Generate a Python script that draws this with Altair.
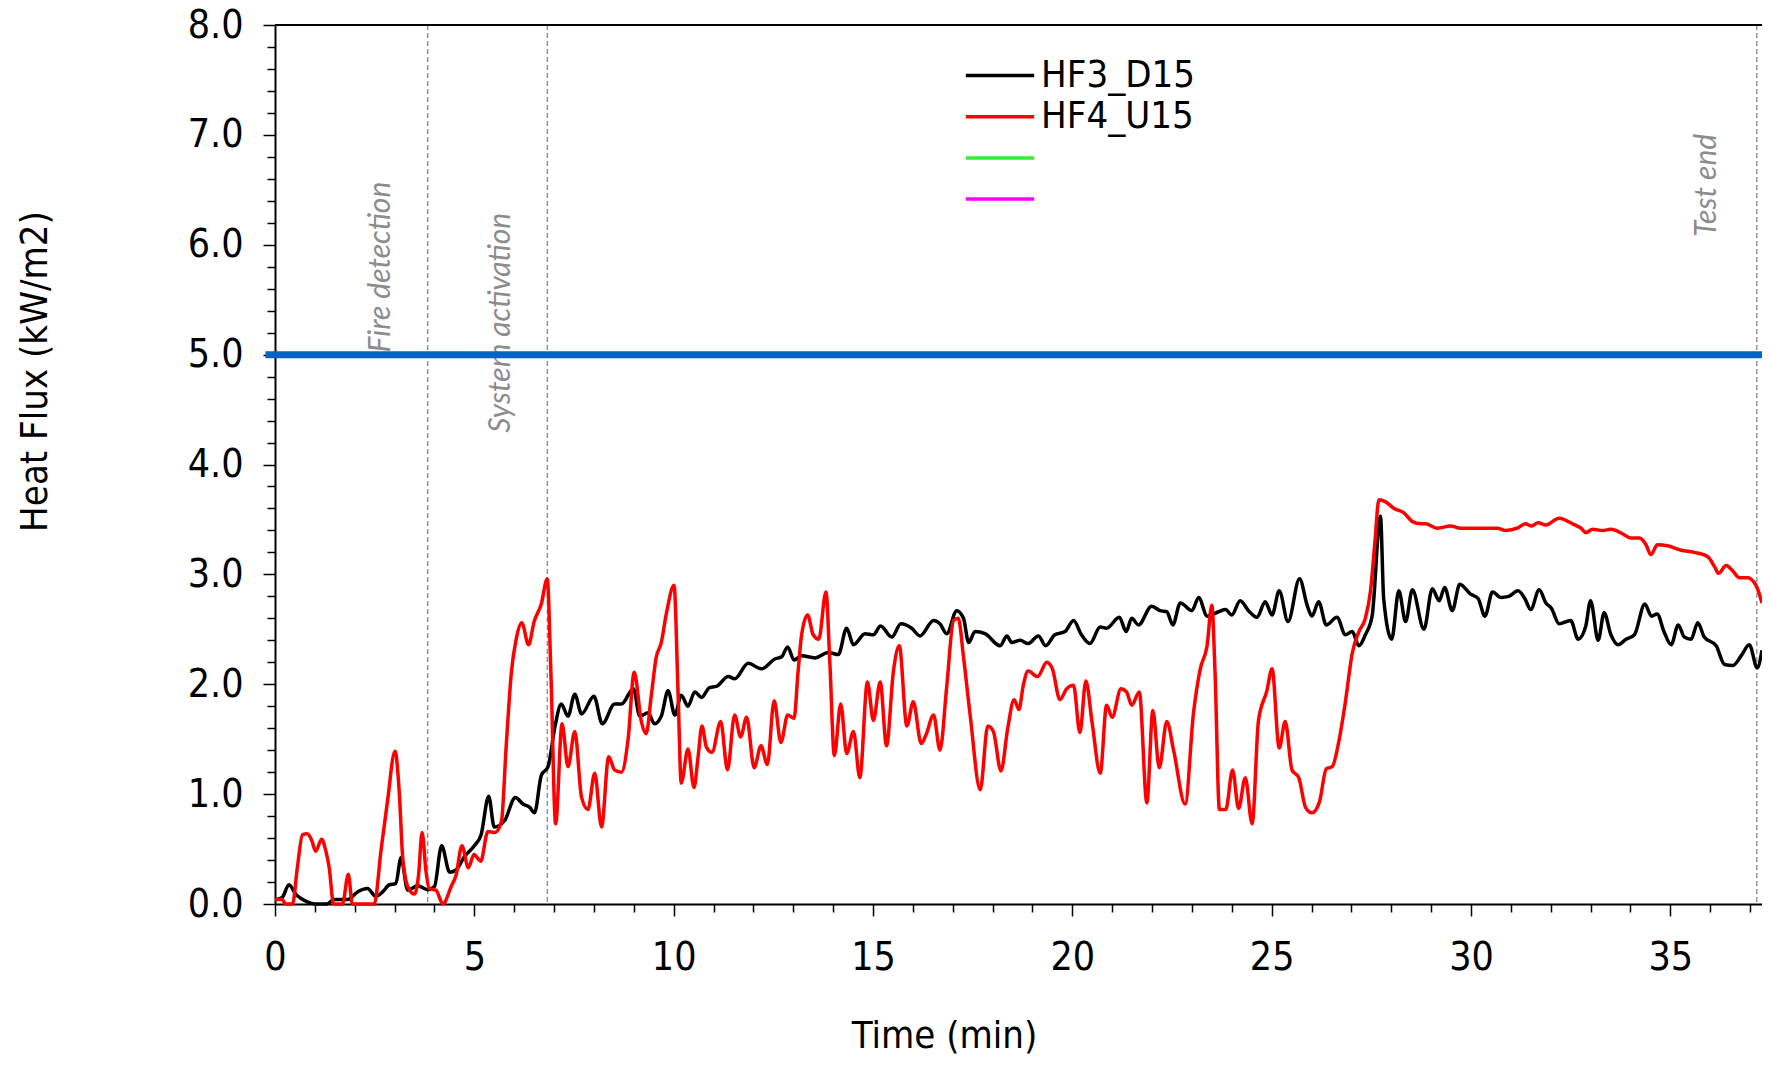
import altair as alt
import pandas as pd

FONT = "DejaVu Sans Condensed, DejaVu Sans"
ANNOT_FONT = "Lato"

# ---- data ----
hf3_t = [0, 0.18, 0.35, 0.52, 0.81, 1.0, 1.3, 1.48, 1.82, 2.07, 2.32, 2.53, 2.7, 2.87, 3.03, 3.16,
         3.33, 3.58, 3.83, 4.0, 4.18, 4.38, 4.54, 4.75, 5.0, 5.17, 5.36, 5.5, 5.76, 6.03, 6.22, 6.39,
         6.51, 6.68, 6.85, 7.02, 7.18, 7.35, 7.52, 7.69, 8.0, 8.21, 8.52, 8.69, 8.99, 9.15, 9.36,
         9.52, 9.69, 9.86, 10.03, 10.19, 10.36, 10.53, 10.7, 10.9, 11.07, 11.37, 11.53, 11.87, 12.2,
         12.54, 12.71, 12.86, 13.02, 13.21, 13.54, 13.88, 14.13, 14.34, 14.51, 14.8, 15.01, 15.19,
         15.47, 15.7, 15.97, 16.18, 16.52, 16.68, 16.85, 17.1, 17.27, 17.4, 17.56, 17.81, 18.19,
         18.36, 18.48, 18.69, 18.89, 19.15, 19.33, 19.56, 19.82, 20.03, 20.23, 20.44, 20.7, 20.86,
         21.18, 21.35, 21.49, 21.66, 21.99, 22.2, 22.37, 22.52, 22.71, 23.0, 23.17, 23.38, 23.67,
         23.84, 24.0, 24.21, 24.42, 24.63, 24.84, 25.01, 25.19, 25.41, 25.7, 25.89, 26.01, 26.18,
         26.37, 26.64, 26.85, 27.02, 27.19, 27.35, 27.52, 27.73, 27.81, 28.01, 28.19, 28.36, 28.53,
         28.82, 29.03, 29.2, 29.34, 29.53, 29.72, 29.99, 30.18, 30.35, 30.54, 30.75, 30.95, 31.18,
         31.35, 31.5, 31.71, 31.88, 32.02, 32.21, 32.5, 32.69, 32.88, 33.0, 33.19, 33.34, 33.51,
         33.69, 33.89, 34.1, 34.36, 34.53, 34.67, 34.84, 35.02, 35.2, 35.35, 35.52, 35.69, 35.85,
         36.15, 36.36, 36.57, 36.78, 36.98, 37.18, 37.3]
hf3_v = [0.04, 0.06, 0.175, 0.09, 0.02, 0.0, 0.0, 0.04, 0.04, 0.11, 0.14, 0.07, 0.11, 0.175, 0.185, 0.42,
         0.125, 0.165, 0.13, 0.16, 0.53, 0.29, 0.31, 0.43, 0.53, 0.63, 0.98, 0.70, 0.76, 0.97, 0.91, 0.88,
         0.83, 1.17, 1.25, 1.61, 1.82, 1.71, 1.91, 1.73, 1.89, 1.64, 1.82, 1.82, 1.96, 1.71, 1.74,
         1.64, 1.71, 1.94, 1.72, 1.90, 1.80, 1.93, 1.88, 1.97, 1.98, 2.07, 2.05, 2.19, 2.14,
         2.23, 2.25, 2.34, 2.22, 2.26, 2.24, 2.29, 2.27, 2.51, 2.36, 2.46, 2.45, 2.53,
         2.43, 2.55, 2.51, 2.44, 2.58, 2.55, 2.46, 2.67, 2.60, 2.38, 2.48, 2.46, 2.35,
         2.44, 2.38, 2.40, 2.37, 2.44, 2.35, 2.45, 2.48, 2.58, 2.45, 2.37, 2.52, 2.51,
         2.61, 2.48, 2.60, 2.54, 2.71, 2.67, 2.66, 2.54, 2.74, 2.67, 2.79, 2.62, 2.66,
         2.68, 2.63, 2.76, 2.67, 2.61, 2.75, 2.63, 2.85, 2.57, 2.96, 2.72, 2.62, 2.75,
         2.54, 2.61, 2.45, 2.48, 2.35, 2.45, 2.62, 3.53, 2.78, 2.41, 2.85, 2.57, 2.86,
         2.50, 2.87, 2.76, 2.88, 2.67, 2.91, 2.82, 2.78, 2.62, 2.84, 2.79, 2.80, 2.85,
         2.78, 2.68, 2.86, 2.74, 2.69, 2.55, 2.58, 2.41, 2.53, 2.76, 2.40, 2.65, 2.45,
         2.36, 2.41, 2.45, 2.73, 2.62, 2.64, 2.48, 2.36, 2.54, 2.43, 2.41, 2.56, 2.43,
         2.35, 2.18, 2.17, 2.26, 2.36, 2.15, 2.31]

hf4_t = [0, 0.18, 0.27, 0.44, 0.56, 0.69, 0.81, 0.92, 1.02, 1.17, 1.27, 1.36, 1.47, 1.69, 1.84, 1.94,
         2.49, 2.66, 2.82, 3.01, 3.12, 3.2, 3.33, 3.5, 3.6, 3.69, 3.79, 3.87, 4.04, 4.21, 4.42, 4.54,
         4.69, 4.85, 4.99, 5.16, 5.34, 5.52, 5.68, 5.8, 5.93, 6.05, 6.19, 6.36, 6.5, 6.68, 6.83, 6.92,
         7.04, 7.2, 7.35, 7.52, 7.69, 7.85, 8.02, 8.19, 8.37, 8.52, 8.69, 8.86, 9.01, 9.19, 9.31,
         9.44, 9.56, 9.69, 9.82, 10.01, 10.11, 10.19, 10.36, 10.51, 10.61, 10.71, 10.82, 10.96,
         11.18, 11.35, 11.53, 11.68, 11.83, 12.02, 12.19, 12.35, 12.52, 12.69, 12.86, 13.02, 13.12,
         13.21, 13.36, 13.5, 13.64, 13.82, 13.92, 14.03, 14.19, 14.34, 14.51, 14.67, 14.86, 15.01,
         15.18, 15.34, 15.51, 15.66, 15.85, 16.01, 16.21, 16.33, 16.52, 16.68, 16.85, 17.02, 17.14,
         17.27, 17.44, 17.69, 17.88, 18.02, 18.21, 18.38, 18.54, 18.66, 18.77, 18.89, 19.13, 19.36,
         19.5, 19.69, 19.86, 20.03, 20.19, 20.34, 20.5, 20.7, 20.86, 21.0, 21.22, 21.36, 21.49,
         21.68, 21.87, 22.02, 22.18, 22.37, 22.54, 22.83, 23.04, 23.21, 23.38, 23.5, 23.58, 23.69,
         23.85, 24.02, 24.17, 24.34, 24.51, 24.67, 24.88, 25.01, 25.19, 25.34, 25.51, 25.68, 25.85,
         26.01, 26.2, 26.37, 26.52, 26.68, 26.85, 27.02, 27.19, 27.35, 27.48, 27.59, 27.69, 27.86,
         28.07, 28.32, 28.53, 28.74, 28.86, 29.15, 29.49, 29.74, 30.16, 30.66, 30.87, 31.16, 31.37,
         31.52, 31.68, 31.88, 32.21, 32.55, 32.76, 32.88, 33.05, 33.3, 33.51, 33.8, 34.01, 34.22,
         34.39, 34.51, 34.68, 34.93, 35.27, 35.6, 35.94, 36.11, 36.21, 36.4, 36.57, 36.73, 36.94,
         37.15, 37.3]
hf4_v = [0.04, 0.04, 0.0, 0.0, 0.33, 0.63, 0.64, 0.58, 0.48, 0.59, 0.49, 0.33, 0.0, 0.0, 0.27, 0.0,
         0.0, 0.49, 0.93, 1.39, 1.0, 0.44, 0.16, 0.09, 0.26, 0.65, 0.29, 0.14, 0.125, 0.0, 0.16, 0.26,
         0.53, 0.33, 0.45, 0.39, 0.66, 0.65, 0.75, 1.44, 2.11, 2.41, 2.56, 2.36, 2.57, 2.73, 2.96, 2.11,
         0.73, 1.64, 1.25, 1.57, 0.97, 0.86, 1.19, 0.70, 1.34, 1.22, 1.20, 1.51, 2.11, 1.66, 1.55,
         1.90, 2.24, 2.38, 2.65, 2.90, 1.93, 1.10, 1.41, 1.06, 1.33, 1.62, 1.43, 1.38,
         1.66, 1.22, 1.72, 1.52, 1.70, 1.24, 1.44, 1.27, 1.85, 1.47, 1.72, 1.69, 2.11,
         2.45, 2.63, 2.45, 2.41, 2.84, 2.18, 1.35, 1.82, 1.37, 1.57, 1.15, 2.02, 1.67,
         2.02, 1.44, 2.11, 2.35, 1.62, 1.84, 1.46, 1.54, 1.72, 1.40, 1.98, 2.58, 2.60,
         2.25, 1.71, 1.04, 1.62, 1.57, 1.21, 1.60, 1.86, 1.77, 1.99, 2.12, 2.07, 2.20,
         2.14, 1.86, 1.96, 1.99, 1.56, 2.03, 1.64, 1.19, 1.81, 1.70, 1.96, 1.93, 1.81,
         1.93, 0.92, 1.76, 1.24, 1.66, 1.40, 0.91, 1.74, 2.14, 2.35, 2.72, 2.11, 0.86,
         0.86, 1.22, 0.87, 1.15, 0.73, 1.67, 1.94, 2.14, 1.42, 1.66, 1.22, 1.15, 0.88,
         0.83, 0.93, 1.23, 1.25, 1.47, 1.84, 2.28, 2.48, 2.60, 2.85, 3.29, 3.68, 3.66,
         3.60, 3.56, 3.48, 3.46, 3.46, 3.42, 3.44, 3.42, 3.42, 3.42, 3.40, 3.42, 3.46,
         3.44, 3.47, 3.45, 3.51, 3.46, 3.42, 3.38, 3.41, 3.40, 3.41, 3.37, 3.33, 3.33,
         3.27, 3.18, 3.27, 3.26, 3.22, 3.20, 3.16, 3.07, 3.01, 3.08, 3.03, 2.97, 2.97,
         2.90, 2.74]

series_names = ["HF3_D15", "HF4_U15", "HF5", "HF6"]
series_colors = ["#000000", "#ff0000", "#33ee33", "#ff00ff"]
series_widths = [3.5, 3.5, 1.5, 1.5]

event_t = [3.83, 6.83, 37.17]
event_labels = ["Fire detection", "System activation", "Test end"]
label_t = [2.875, 5.9, 36.15]
label_v = [5.02, 4.29, 6.07]

threshold_v = [5.0]
threshold_t0 = [-0.24]
X_MAX = 37.3
Y_MAX = 8.0

x_tick_values = list(range(0, 38))
y_tick_values = [round(i * 0.2, 1) for i in range(41)]

# ---- tables ----
lines_df = pd.concat([
    pd.DataFrame({"t": hf3_t, "v": hf3_v, "series": "HF3_D15"}),
    pd.DataFrame({"t": hf4_t, "v": hf4_v, "series": "HF4_U15"}),
])
events_df = pd.DataFrame({"t": event_t})
labels_df = pd.DataFrame({"t": label_t, "v": label_v, "label": event_labels})
thr_df = pd.DataFrame({"t": threshold_t0, "t2": [X_MAX], "v": threshold_v})
top_df = pd.DataFrame({"t": [0.0], "t2": [X_MAX], "v": [Y_MAX]})

x_scale = alt.Scale(domain=[0, X_MAX], nice=False, zero=False)
y_scale = alt.Scale(domain=[0, Y_MAX], nice=False)

x_axis = alt.Axis(
    title="Time (min)", values=x_tick_values,
    labelExpr="datum.value % 5 === 0 ? datum.label : ''",
    tickSize={"condition": {"test": "datum.value % 5 === 0", "value": 12}, "value": 8},
    labelPadding=22, labelFlush=False, labelOverlap=False,
    titleX=669, titleY=143, titleBaseline="alphabetic", titleAlign="center",
    grid=False,
)
y_axis = alt.Axis(
    title="Heat Flux (kW/m2)", values=y_tick_values,
    labelExpr="datum.value % 1 === 0 ? format(datum.value, '.1f') : ''",
    tickSize={"condition": {"test": "datum.value % 1 === 0", "value": 12}, "value": 8},
    labelPadding=20, labelOverlap=False,
    titleX=-229, titleY=346, titleAngle=270, titleBaseline="alphabetic", titleAlign="center",
    grid=False,
)

X = lambda f="t:Q": alt.X(f, scale=x_scale, axis=x_axis)
Y = lambda f="v:Q": alt.Y(f, scale=y_scale, axis=y_axis)


def make_legend():
    return alt.Legend(
        title=None, orient="none", legendX=689, legendY=32,
        symbolType="stroke", symbolSize=4665,
        labelFont=FONT, labelFontSize=38, labelColor="black", labelOffset=5,
        labelExpr="indexof(['HF3_D15','HF4_U15'], datum.value) >= 0 ? datum.value : ' '",
        clipHeight=37, rowPadding=2.2, padding=0,
    )


lines = alt.Chart(lines_df).mark_line(interpolate="monotone").encode(
    x=X(), y=Y(),
    color=alt.Color("series:N", scale=alt.Scale(domain=series_names, range=series_colors),
                    legend=make_legend()),
    strokeWidth=alt.StrokeWidth("series:N", scale=alt.Scale(domain=series_names, range=series_widths),
                                legend=make_legend()),
)

events = alt.Chart(events_df).mark_rule(color="#808080", strokeWidth=1.2, strokeDash=[5, 3]).encode(
    x=X(),
)

labels = alt.Chart(labels_df).mark_text(
    angle=270, align="left", baseline="alphabetic", font=ANNOT_FONT, fontStyle="italic",
    fontSize=30, color="#8c8c8c",
).encode(x=X(), y=Y(), text="label:N")

threshold = alt.Chart(thr_df).mark_rule(color="#0563c1", strokeWidth=7).encode(
    x=X(), x2="t2:Q", y=Y(),
)

top_border = alt.Chart(top_df).mark_rule(color="black", strokeWidth=2).encode(
    x=X(), x2="t2:Q", y=Y(),
)

chart = alt.layer(events, labels, threshold, lines, top_border).properties(
    width=1487, height=879,
    autosize=alt.AutoSizeParams(type="none"),
    padding={"left": 267, "top": 17, "right": 0, "bottom": 151},
).configure_view(stroke=None).configure_axis(
    labelFont=FONT, labelFontSize=39, labelColor="black",
    titleFont=FONT, titleFontSize=38, titleFontWeight="normal", titleColor="black",
    domainColor="black", domainWidth=2, tickColor="black", tickWidth=1.5,
)

chart.save("out.html", embed_options={"renderer": "svg", "actions": False})
